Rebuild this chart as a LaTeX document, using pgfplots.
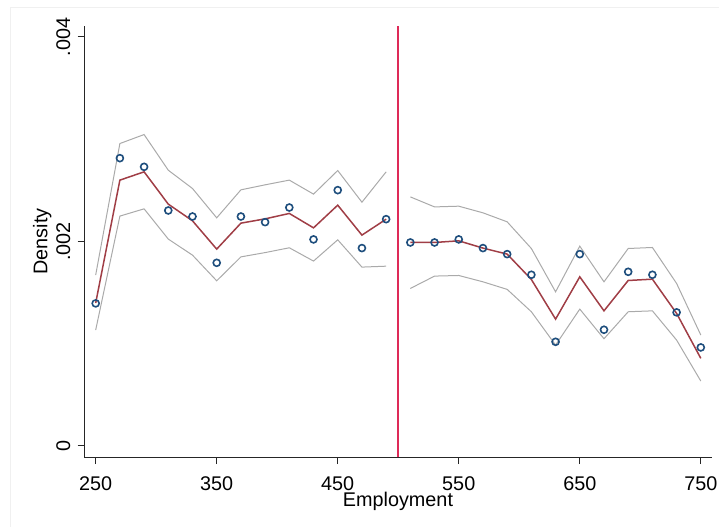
\documentclass[border=0pt]{standalone}
\usepackage{pgfplots}
\pgfplotsset{compat=1.18}
\usepackage{pgfplotstable}
\usepackage{fontspec}
\setmainfont{Liberation Sans}
\definecolor{dotblue}{RGB}{30,78,125}
\definecolor{fitred}{RGB}{160,62,70}
\definecolor{cigray}{RGB}{170,170,170}
\definecolor{vred}{RGB}{222,42,88}

% x, density (bins), fit, lower CI, upper CI
\pgfplotstableread{
x    d        f        lo       hi
250  0.001393 0.001396 0.001132 0.001670
270  0.002814 0.002599 0.002247 0.002957
290  0.002729 0.002680 0.002318 0.003045
310  0.002302 0.002364 0.002022 0.002696
330  0.002243 0.002201 0.001865 0.002517
350  0.001790 0.001924 0.001614 0.002230
370  0.002243 0.002178 0.001848 0.002504
390  0.002188 0.002220 0.001890 0.002553
410  0.002331 0.002273 0.001937 0.002599
430  0.002019 0.002132 0.001807 0.002462
450  0.002501 0.002354 0.002015 0.002693
470  0.001934 0.002061 0.001748 0.002383
490  0.002217 0.002217 0.001757 0.002680
}\lefttab
\pgfplotstableread{
x    d        f        lo       hi
510  0.001989 0.001989 0.001539 0.002435
530  0.001989 0.001989 0.001660 0.002337
550  0.002019 0.002005 0.001666 0.002344
570  0.001934 0.001934 0.001604 0.002279
590  0.001875 0.001875 0.001530 0.002191
610  0.001673 0.001627 0.001311 0.001930
630  0.001017 0.001239 0.000985 0.001506
650  0.001875 0.001653 0.001337 0.001953
670  0.001135 0.001320 0.001047 0.001604
690  0.001702 0.001617 0.001311 0.001930
710  0.001673 0.001630 0.001320 0.001940
730  0.001305 0.001295 0.001034 0.001588
750  0.000962 0.000855 0.000633 0.001083
}\righttab

\begin{document}
\begin{tikzpicture}
\begin{axis}[
  name=ax,
  scale only axis,
  width=627.4bp, height=431.6bp,
  xmin=240.6, xmax=759,
  ymin=-0.000113, ymax=0.00411,
  axis lines=left,
  axis line style={-, line width=0.9bp, black!85},
  xtick={250,350,450,550,650,750},
  ytick={0,0.002,0.004},
  yticklabels={0,.002,.004},
  scaled y ticks=false,
  tick align=outside,
  major tick length=6.7bp,
  tick style={line width=0.9bp, black!85},
  /pgf/number format/assume math mode=true,
  xticklabel style={font=\fontsize{19.8bp}{24bp}\selectfont, anchor=north, inner sep=0pt, yshift=-12bp},
  yticklabel style={font=\fontsize{19.8bp}{24bp}\selectfont, rotate=90, anchor=south, inner sep=0pt, yshift=7bp},
  xlabel={Employment},
  ylabel={Density},
  every axis x label/.style={at={(axis description cs:0.5,0)}, anchor=north, inner sep=0pt, yshift=-34.5bp, font=\fontsize{19.8bp}{24bp}\selectfont},
  every axis y label/.style={at={(axis description cs:0,0.5)}, rotate=90, anchor=base, inner sep=0pt, yshift=36.8bp, font=\fontsize{19.8bp}{24bp}\selectfont},
  clip=false,
]
\addplot[cigray, line width=1.0bp] table[x=x,y=hi] {\lefttab};
\addplot[cigray, line width=1.0bp] table[x=x,y=lo] {\lefttab};
\addplot[cigray, line width=1.0bp] table[x=x,y=hi] {\righttab};
\addplot[cigray, line width=1.0bp] table[x=x,y=lo] {\righttab};
\addplot[fitred, line width=1.5bp] table[x=x,y=f] {\lefttab};
\addplot[fitred, line width=1.5bp] table[x=x,y=f] {\righttab};
\addplot[only marks, mark=o, mark size=3.5bp, mark options={dotblue, line width=1.6bp}] table[x=x,y=d] {\lefttab};
\addplot[only marks, mark=o, mark size=3.5bp, mark options={dotblue, line width=1.6bp}] table[x=x,y=d] {\righttab};
\addplot[vred, line width=1.8bp] coordinates {(500,-0.000113) (500,0.00411)};
\end{axis}
\draw[black!6, line width=0.8bp] ([xshift=-74.3bp,yshift=-69.7bp]ax.south west) -- ([xshift=-74.3bp,yshift=18.4bp]ax.north west) -- ([xshift=7.3bp,yshift=18.4bp]ax.north east);
\pgfresetboundingbox
\path[use as bounding box] ([xshift=-84.3bp,yshift=-69.7bp]ax.south west) rectangle ([xshift=7.3bp,yshift=25.7bp]ax.north east);
\end{tikzpicture}
\end{document}
